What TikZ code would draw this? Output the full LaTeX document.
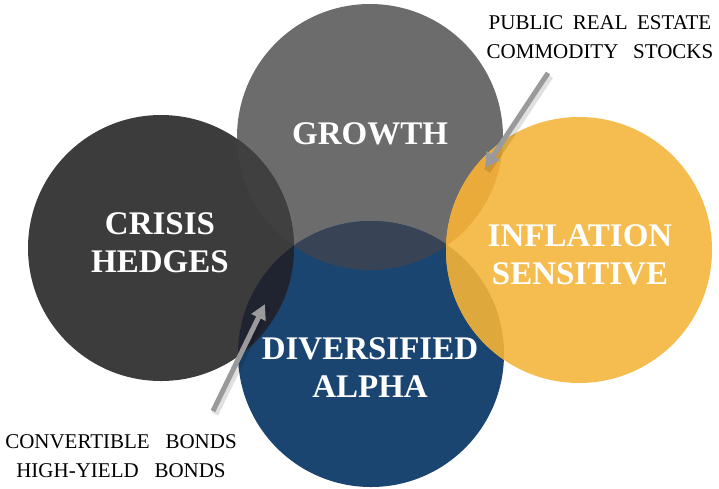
\documentclass[tikz,border=0pt]{standalone}
\usepackage{fontspec}
\setmainfont{Liberation Serif}
\usetikzlibrary{arrows.meta}
\definecolor{crisisc}{HTML}{3C3C3C}
\definecolor{growthc}{HTML}{6C6C6C}
\definecolor{inflc}{HTML}{F5BD4F}
\definecolor{divc}{HTML}{1A4571}
\definecolor{cgc}{HTML}{404040}
\definecolor{cdc}{HTML}{1F2430}
\definecolor{gdc}{HTML}{384356}
\definecolor{gic}{HTML}{EAAB3A}
\definecolor{idc}{HTML}{DFA83D}
\definecolor{arrowc}{HTML}{9A9A9C}
\begin{document}
\begin{tikzpicture}[x=1pt,y=-1pt,
  circ/.style={circle, minimum size=266pt, inner sep=0pt},
  biglabel/.style={text=white, font=\bfseries\fontsize{33}{38}\selectfont, align=center, inner sep=0pt},
  smalllabel/.style={text=black, font=\fontsize{21}{29}\selectfont, align=center, inner sep=0pt},
  pointer/.style={draw=arrowc, line width=5pt, -{Triangle[width=15pt,length=15pt]}},
  pshadow/.style={draw=black, opacity=0.12, line width=7pt}]
\useasboundingbox (0,0) rectangle (719,488);
\fill[white] (0,0) rectangle (719,488);
% circles
\node[circ, fill=growthc] (growth) at (370,137) {};
\node[circ, fill=divc] (div) at (371,354) {};
\node[circ, fill=crisisc] (crisis) at (161,248) {};
\node[circ, fill=inflc] (infl) at (579,250) {};
% overlaps
\begin{scope}\clip (crisis.center) circle (133); \fill[cgc] (growth.center) circle (133);\end{scope}
\begin{scope}\clip (crisis.center) circle (133); \fill[cdc] (div.center) circle (133);\end{scope}
\begin{scope}\clip (growth.center) circle (133); \fill[gdc] (div.center) circle (133);\end{scope}
\begin{scope}\clip (growth.center) circle (133); \fill[gic] (infl.center) circle (133);\end{scope}
\begin{scope}\clip (infl.center) circle (133); \fill[idc] (div.center) circle (133);\end{scope}
% labels
\node[biglabel] (lgrowth) at (370,134) {GROWTH};
\node[biglabel] (lcrisis) at (160,243) {CRISIS\\HEDGES};
\node[biglabel] (linfl) at (580,255) {INFLATION\\SENSITIVE};
\node[biglabel] (ldiv) at (370,368) {DIVERSIFIED\\ALPHA};
\node[smalllabel] (ltop) at (600,37) {PUBLIC\hspace{0.45em}REAL\hspace{0.45em}ESTATE\\COMMODITY\hspace{0.7em}STOCKS};
\node[smalllabel] (lbot) at (121,456) {CONVERTIBLE\hspace{0.75em}BONDS\\HIGH-YIELD\hspace{0.75em}BONDS};
% pointers
\coordinate (ta) at (548,73);
\coordinate (tb) at (485,168);
\coordinate (ba) at (213,411);
\coordinate (bb) at (265,304);
\draw[pshadow] ([shift={(2,3)}]ta) -- ([shift={(2,3)}]tb);
\draw[pshadow] ([shift={(2,3)}]ba) -- ([shift={(2,3)}]bb);
\draw[pointer] (ta) -- (tb);
\draw[pointer] (ba) -- (bb);
\end{tikzpicture}
\end{document}
